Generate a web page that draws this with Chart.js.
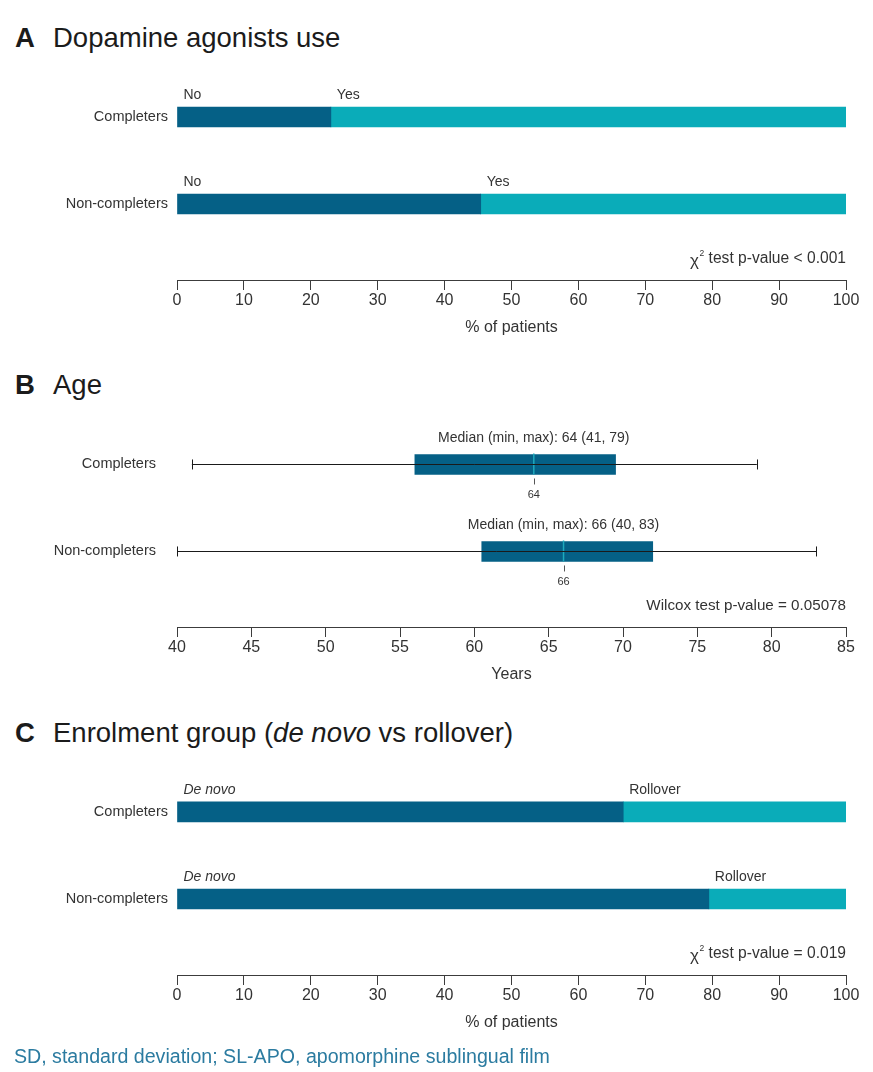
<!DOCTYPE html>
<html>
<head>
<meta charset="utf-8">
<title>Completers vs non-completers</title>
<script src="https://cdn.jsdelivr.net/npm/chart.js@4.4.0/dist/chart.umd.min.js"></script>
<style>
  html, body { margin: 0; padding: 0; background: #fff; }
  body { position: relative; width: 873px; height: 1072px; overflow: hidden;
         font-family: 'Liberation Sans', Arial, sans-serif; }
  .heading { position: absolute; left: 15px; font-size: 27.5px; line-height: 32px; color: #1b1b1b; white-space: nowrap; }
  .heading b { display: inline-block; width: 38px; }
  .panel { position: absolute; left: 0; width: 873px; }
  .footnote { position: absolute; left: 14px; top: 1043px; font-size: 19.6px; line-height: 26px; color: #2b7ba0; white-space: nowrap; }
</style>
</head>
<body>
<div class="heading" style="top:22px"><b>A</b>Dopamine agonists use</div>
<div class="heading" style="top:369px"><b>B</b>Age</div>
<div class="heading" style="top:717px"><b>C</b>Enrolment group (<i>de novo</i> vs rollover)</div>

<div class="panel" style="top:60px;height:290px"><canvas id="chartA"></canvas></div>
<div class="panel" style="top:400px;height:297px"><canvas id="chartB"></canvas></div>
<div class="panel" style="top:750px;height:295px"><canvas id="chartC"></canvas></div>

<div class="footnote">SD, standard deviation; SL-APO, apomorphine sublingual film</div>

<script>
// ---- data ----
const groups = ['Completers', 'Non-completers'];

// A: dopamine agonists use (% of patients)
const dopaCategories = ['No', 'Yes'];
const dopaNo = [23.0, 45.4];
const dopaYes = [77.0, 54.6];
const dopaTest = 'test p-value < 0.001';

// B: age (years)
const ageMin = [41, 40];
const ageQ1 = [56, 60.5];
const ageMedian = [64, 66];
const ageQ3 = [69.5, 72];
const ageMax = [79, 83];
const ageTest = 'Wilcox test p-value = 0.05078';

// C: enrolment group (% of patients)
const enrolCategories = ['De novo', 'Rollover'];
const enrolDeNovo = [66.7, 79.5];
const enrolRollover = [33.3, 20.5];
const enrolTest = 'test p-value = 0.019';

// axis ticks
const percentTicks = [0, 10, 20, 30, 40, 50, 60, 70, 80, 90, 100];
const yearTicks = [40, 45, 50, 55, 60, 65, 70, 75, 80, 85];

// ---- styling ----
const FONT = "'Liberation Sans', Arial, sans-serif";
const TEXT = '#333333';
const AXIS = '#3c3c3c';
const DARK = '#056086';
const LIGHT = '#0aacb9';

function xScale(tickValues, title) {
  return {
    type: 'linear', position: 'bottom',
    min: tickValues[0], max: tickValues[tickValues.length - 1],
    afterBuildTicks: s => { s.ticks = tickValues.map(v => ({ value: v })); },
    grid: { display: true, drawOnChartArea: false, drawTicks: true, tickLength: 10, color: AXIS, lineWidth: 1 },
    border: { display: true, color: AXIS, width: 1 },
    ticks: { font: { size: 16, family: FONT }, color: TEXT, padding: 1, maxRotation: 0, autoSkip: false },
    title: { display: true, text: title, font: { size: 16, family: FONT }, color: TEXT, padding: { top: 0, bottom: 13 } },
    afterFit: s => { s.height = 70; }
  };
}

// group axis: a linear index scale so the rows can sit above a free band for the test note
function yScale(min, max, labelPad) {
  return {
    type: 'linear', reverse: true, offset: false, min: min, max: max, stacked: true,
    afterBuildTicks: s => { s.ticks = groups.map((g, i) => ({ value: i })); },
    grid: { display: false, drawTicks: false },
    border: { display: false },
    ticks: { callback: v => groups[v], font: { size: 14.5, family: FONT }, color: TEXT, padding: labelPad },
    afterFit: s => { s.width = 177; s.paddingTop = 0; s.paddingBottom = 0; }
  };
}

// statistical test note above the x axis, right aligned; optional chi-squared symbol
function drawTestNote(chart, text, chi) {
  const ctx = chart.ctx;
  const a = chart.chartArea;
  const y = a.bottom - 21;
  ctx.save();
  ctx.fillStyle = TEXT;
  ctx.textBaseline = 'middle';
  const mainFont = (chi ? '15.6px ' : '15.2px ') + FONT;
  const chiFont = '17px ' + FONT;
  const supFont = '8.5px ' + FONT;
  ctx.font = mainFont;
  const body = (chi ? ' ' : '') + text;
  const wBody = ctx.measureText(body).width;
  let wChi = 0, wSup = 0;
  if (chi) {
    ctx.font = chiFont;
    wChi = ctx.measureText('\u03C7').width + 0.5;
    ctx.font = supFont;
    wSup = ctx.measureText('2').width;
  }
  let x = a.right - (wChi + wSup + wBody);
  ctx.textAlign = 'left';
  if (chi) {
    ctx.font = chiFont;
    ctx.fillText('\u03C7', x, y + 2);
    x += wChi;
    ctx.font = supFont;
    ctx.fillText('2', x, y - 5);
    x += wSup;
  }
  ctx.font = mainFont;
  ctx.fillText(body, x, y);
  ctx.restore();
}

// labels above the start of each stacked segment
function segmentLabelPlugin(names, italicFirst, testText) {
  return {
    id: 'segmentLabels',
    afterDatasetsDraw(chart) {
      const ctx = chart.ctx;
      ctx.save();
      ctx.fillStyle = TEXT;
      ctx.textAlign = 'left';
      ctx.textBaseline = 'middle';
      chart.data.datasets.forEach((ds, d) => {
        const meta = chart.getDatasetMeta(d);
        meta.data.forEach(bar => {
          const start = Math.min(bar.x, bar.base);
          ctx.font = (italicFirst && d === 0 ? 'italic ' : '') + '14px ' + FONT;
          ctx.fillText(names[d], start + 6, bar.y - bar.height / 2 - 12);
        });
      });
      ctx.restore();
      drawTestNote(chart, testText, true);
    }
  };
}

function stackedChart(id, first, second, names, italicFirst, testText, yMin, yMax) {
  return new Chart(document.getElementById(id), {
    type: 'bar',
    data: {
      datasets: [
        { label: names[0], data: first.map((v, i) => ({ x: v, y: i })), backgroundColor: DARK, barThickness: 20 },
        { label: names[1], data: second.map((v, i) => ({ x: v, y: i })), backgroundColor: LIGHT, barThickness: 20 }
      ]
    },
    options: {
      indexAxis: 'y',
      responsive: true, maintainAspectRatio: false, animation: false,
      layout: { padding: { left: 0, right: 27, top: 0, bottom: 0 } },
      scales: {
        x: Object.assign(xScale(percentTicks, '% of patients'), { stacked: true }),
        y: yScale(yMin, yMax, 9)
      },
      plugins: { legend: { display: false }, tooltip: { enabled: false } }
    },
    plugins: [segmentLabelPlugin(names, italicFirst, testText)]
  });
}

stackedChart('chartA', dopaNo, dopaYes, dopaCategories, false, dopaTest, -0.655, 1.874);
stackedChart('chartC', enrolDeNovo, enrolRollover, enrolCategories, true, enrolTest, -0.712, 1.874);

// B: box (Q1-Q3) as floating bars, whiskers / median drawn from the same scales
const boxPlugin = {
  id: 'ageBoxes',
  afterDatasetsDraw(chart) {
    const ctx = chart.ctx;
    const xs = chart.scales.x;
    const meta = chart.getDatasetMeta(0);
    ctx.save();
    meta.data.forEach((bar, i) => {
      const y = bar.y;
      const top = y - bar.height / 2;
      const bottom = y + bar.height / 2;
      const xMin = xs.getPixelForValue(ageMin[i]);
      const xMax = xs.getPixelForValue(ageMax[i]);
      const xMed = xs.getPixelForValue(ageMedian[i]);
      // median line inside the box
      ctx.strokeStyle = '#1fa9bc';
      ctx.lineWidth = 1.5;
      ctx.beginPath();
      ctx.moveTo(xMed, top - 1);
      ctx.lineTo(xMed, bottom);
      ctx.stroke();
      // whisker from min to max with end caps
      ctx.strokeStyle = '#1a1a1a';
      ctx.lineWidth = 1;
      ctx.beginPath();
      ctx.moveTo(xMin, Math.round(y) + 0.5);
      ctx.lineTo(xMax, Math.round(y) + 0.5);
      ctx.moveTo(Math.round(xMin) + 0.5, y - 5);
      ctx.lineTo(Math.round(xMin) + 0.5, y + 5);
      ctx.moveTo(Math.round(xMax) + 0.5, y - 5);
      ctx.lineTo(Math.round(xMax) + 0.5, y + 5);
      ctx.stroke();
      // median marker and value below the box
      ctx.strokeStyle = '#555';
      ctx.beginPath();
      ctx.moveTo(Math.round(xMed) + 0.5, bottom + 4);
      ctx.lineTo(Math.round(xMed) + 0.5, bottom + 10);
      ctx.stroke();
      ctx.fillStyle = TEXT;
      ctx.textAlign = 'center';
      ctx.textBaseline = 'middle';
      ctx.font = '11px ' + FONT;
      ctx.fillText(String(ageMedian[i]), xMed, bottom + 20);
      // summary above the box
      ctx.font = '14px ' + FONT;
      ctx.fillText('Median (min, max): ' + ageMedian[i] + ' (' + ageMin[i] + ', ' + ageMax[i] + ')', xMed, top - 16);
    });
    ctx.restore();
    drawTestNote(chart, ageTest, false);
  }
};

new Chart(document.getElementById('chartB'), {
  type: 'bar',
  data: {
    datasets: [
      { label: 'IQR', data: ageQ1.map((q, i) => ({ x: [q, ageQ3[i]], y: i })), backgroundColor: DARK, barThickness: 20 }
    ]
  },
  options: {
    indexAxis: 'y',
    responsive: true, maintainAspectRatio: false, animation: false,
    layout: { padding: { left: 0, right: 27, top: 0, bottom: 0 } },
    scales: {
      x: xScale(yearTicks, 'Years'),
      y: yScale(-0.741, 1.868, 21)
    },
    plugins: { legend: { display: false }, tooltip: { enabled: false } }
  },
  plugins: [boxPlugin]
});
</script>
</body>
</html>
